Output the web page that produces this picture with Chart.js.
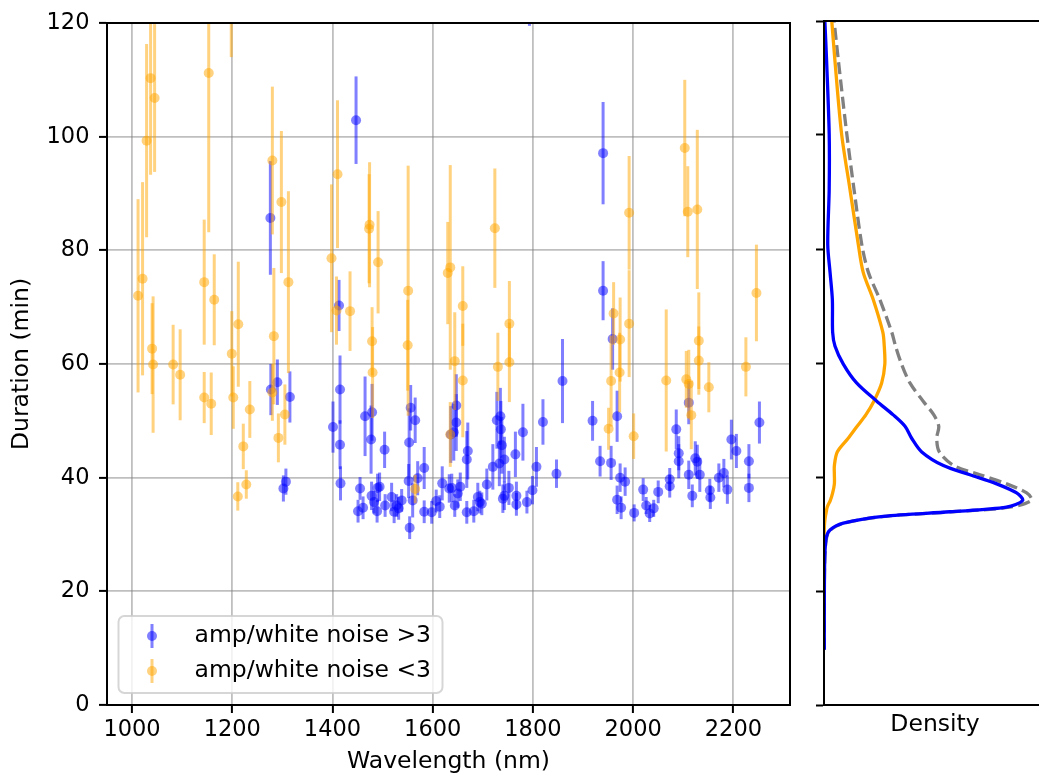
<!DOCTYPE html>
<html>
<head>
<meta charset="utf-8">
<title>Duration vs wavelength</title>
<script src="https://cdn.jsdelivr.net/npm/chart.js@4.4.0/dist/chart.umd.min.js"></script>
<style>
  body { margin: 0; background: #fff; overflow: hidden; }
  #main { position: absolute; left: 0; top: 0; }
  #side { position: absolute; left: 800px; top: 0; }
</style>
</head>
<body>
<canvas id="main" width="800" height="778"></canvas>
<canvas id="side" width="260" height="778"></canvas>
<script>
'use strict';

// amp/white noise > 3
var blueWave = [1276, 1277, 1290, 1315, 1302, 1307, 1413, 1415, 1401, 1415, 1416, 1447, 1793, 1465, 1479, 1477, 1504, 1455, 1478, 1483,
  1490, 1494, 1489, 1451, 1461, 1505, 1518, 1523, 1532, 1528, 1538, 1554, 1553, 1556, 1565, 1552, 1560, 1570, 1583, 1583,
  1598, 1607, 1614, 1619, 1633, 1636, 1647, 1647, 1642, 1638, 1650, 1655, 1644, 1670, 1668, 1668, 1682, 1690, 1698, 1694,
  1708, 1720, 1733, 1728, 1735, 1736, 1738, 1743, 1740, 1743, 1752, 1765, 1767, 1767, 1780, 1788, 1799, 1807, 1820, 1847,
  1859, 1940, 1940, 1919, 1968, 1934, 1956, 1974, 1984, 1968, 1976, 2002, 2020, 2026, 2033, 2041, 2050, 2073, 2073, 2086,
  2091, 2091, 2111, 2111, 2118, 2124, 2128, 2133, 2153, 2154, 2171, 2181, 2188, 2196, 2206, 2231, 2231, 2252, 1959];
var blueDur = [85.7, 55.5, 56.8, 54.2, 38.1, 39.3, 70.3, 55.5, 48.9, 45.8, 39, 102.9, 125, 50.8, 51.5, 46.7, 44.9, 38.1, 36.8, 35.7,
  38.2, 38.4, 34.1, 34.1, 34.7, 35.1, 36.6, 34, 34.6, 35.1, 36, 31.2, 46.2, 52.3, 50.1, 39.4, 36, 39.9, 41.7, 34,
  33.9, 35.9, 34.9, 39, 38.1, 47.6, 52.7, 49.7, 48, 38.2, 37.2, 38.4, 35.1, 44.7, 43.2, 33.9, 34.1, 36.6, 35.4, 35.7,
  38.8, 41.9, 42.5, 50.1, 50.8, 48.5, 45.7, 43.2, 36.3, 36.8, 38.2, 44.1, 36.8, 35.3, 48, 35.7, 37.8, 41.9, 49.8, 40.7,
  57, 97.1, 72.9, 50, 50.8, 42.9, 42.6, 40, 39.3, 36.1, 34.7, 33.8, 37.9, 35.1, 33.7, 34.6, 37.5, 39.7, 38.5, 48.5,
  44.3, 42.9, 40.5, 53.2, 36.8, 43.4, 42.8, 40.5, 37.8, 36.5, 40, 40.8, 37.9, 46.7, 44.7, 42.9, 38.2, 49.7, 64.4];
var blueErr = [10, 4.5, 4, 4.5, 2.3, 2.3, 4.5, 6, 4.5, 4.3, 3, 7.7, 5.5, 7, 5, 6, 3.2, 2, 2.5, 2,
  2.5, 2.5, 2, 2, 2, 2, 2.5, 2, 2, 2, 2, 2, 6, 4, 4, 3, 3, 3, 3.7, 2,
  2, 2, 2, 3, 2.5, 5, 5.5, 5, 5, 2.5, 2.5, 2.5, 2, 5, 5, 2, 2, 2.5, 2, 2,
  2.8, 4, 4, 5, 5, 5, 5, 4, 2.5, 2.5, 3, 4, 2.5, 2, 5, 2, 2.5, 3.5, 4, 2.5,
  7.4, 9, 5.2, 3.5, 4.5, 2.7, 3, 2.5, 2.5, 2.5, 2, 1.5, 2, 1.5, 1.5, 1.5, 2, 2, 2, 3.5,
  3, 3, 2.5, 3.8, 2, 3, 3, 3, 2, 2, 2.5, 2.5, 2.5, 3.5, 3, 3, 2.5, 3.7, 5.4];

// amp/white noise < 3
var orangeWave = [1012, 1021, 1029, 1037, 1045, 1040, 1042, 1082, 1096, 1144, 1144, 1153, 1158, 1164, 1198, 1199, 1202, 1212, 1222, 1211,
  1228, 1235, 1280, 1283, 1280, 1292, 1298, 1305, 1312, 1398, 1408, 1410, 1435, 1474, 1473, 1479, 1480, 1491, 1551, 1550,
  1565, 1630, 1635, 1635, 1644, 1660, 1660, 1724, 1730, 1753, 1753, 1992, 2103, 2109, 2128, 2246, 1961, 1956, 1951, 1974,
  1973, 1992, 2001, 2066, 2106, 2111, 2116, 2131, 2131, 2151, 2225];
var orangeDur = [72, 75, 99.3, 110.3, 106.8, 62.7, 59.9, 59.9, 58.1, 74.4, 54.1, 111.2, 53, 71.3, 128, 61.8, 54.1, 67, 45.5, 36.7,
  38.8, 52, 95.8, 64.9, 55, 47, 88.5, 51.1, 74.4, 78.6, 69.4, 93.4, 69.3, 84.5, 83.8, 64, 58.5, 77.9, 72.9, 63.3,
  38, 76, 77, 47.6, 60.5, 70.2, 57.1, 83.9, 59.5, 67.1, 60.3, 86.6, 98, 86.8, 87.2, 72.5, 68.9, 57, 48.6, 64.3,
  58.5, 67.1, 47.3, 57.1, 57.3, 56.5, 51, 64.1, 60.6, 55.9, 59.5];
var orangeErr = [17, 17, 17, 17, 13, 8, 12, 7, 8, 11, 4.5, 28, 5.5, 8, 14, 7.5, 5.5, 11, 4, 2.5,
  2.5, 5, 13, 12, 5, 4.3, 12.5, 5.3, 16, 13, 6, 13, 7, 11, 9.6, 6, 8, 9, 22, 8,
  2.5, 9, 18, 5.7, 8.6, 7, 10, 10.5, 6, 7.5, 7, 10, 12, 8, 14, 8.5, 5.5, 8, 3.7, 7.4,
  7, 9.4, 4, 12.5, 5, 6, 6, 8.5, 6, 4.4, 5.2];

var legendLabels = ['amp/white noise >3', 'amp/white noise <3'];
var xTicks = [1000, 1200, 1400, 1600, 1800, 2000, 2200];
var yTicks = [0, 20, 40, 60, 80, 100, 120];

// density curves, read at these durations (min)
var kdeDur = [9.7, 24.2, 29.1, 30.7, 31.9, 33.1, 33.9, 34.7, 35.9, 37.2, 38.8, 40.4, 42, 44.4, 46.8, 48.9, 50.9, 53.3, 56.5, 59.8,
  63, 65.4, 71.1, 75.9, 80.8, 90.5, 100.2, 113, 120];
var blueDensity = [0.0001, 0.0002, 0.0007, 0.0021, 0.0067, 0.0206, 0.0437, 0.0633, 0.0689, 0.0668, 0.0599, 0.0506, 0.0414, 0.0339, 0.0304, 0.0281, 0.0240, 0.0183, 0.0113, 0.0067,
  0.0038, 0.0030, 0.0029, 0.0021, 0.0013, 0.0018, 0.0018, 0.0009, 0.0003];
var orangeDensity = [null, null, 0, 0.0001, 0.0002, 0.0005, 0.0008, 0.0011, 0.0022, 0.0030, 0.0036, 0.0036, 0.0036, 0.0046, 0.0084, 0.0115, 0.0145, 0.0173, 0.0200, 0.0211,
  0.0209, 0.0204, 0.0171, 0.0136, 0.0119, 0.0090, 0.0061, 0.0038, 0.0027];
var totalDensity = [0.0001, 0.0002, 0.0008, 0.0022, 0.0069, 0.0211, 0.0445, 0.0644, 0.0720, 0.0703, 0.0633, 0.0541, 0.0450, 0.0400, 0.0391, 0.0398, 0.0381, 0.0344, 0.0298, 0.0269,
  0.0248, 0.0235, 0.0194, 0.0154, 0.0131, 0.0104, 0.0079, 0.0050, 0.0035];

Chart.defaults.font.family = 'DejaVu Sans';
Chart.defaults.font.size = 23.5;
Chart.defaults.color = '#000';

var tickFont = { size: 22.5 };

function toPoints(xs, ys) {
  return xs.map(function(x, i) { return { x: x, y: ys[i] }; });
}

function toCurve(dens) {
  var pts = [];
  kdeDur.forEach(function(d, i) {
    if (dens[i] !== null) pts.push({ x: dens[i], y: d });
  });
  return pts;
}

function setTicks(list) {
  return function(scale) {
    scale.ticks = list.map(function(v) { return { value: v }; });
  };
}

//plain numbers, no thousands separator
function plainLabel(value) {
  return String(value);
}

//vertical error bars, drawn right before each dataset's markers
var errorBars = {
  id: 'errorBars',
  beforeDatasetDraw: function(chart, args) {
    var ds = chart.data.datasets[args.index];
    if (!ds.errors) return;
    var ctx = chart.ctx;
    var area = chart.chartArea;
    var xs = chart.scales.x, ys = chart.scales.y;
    ctx.save();
    ctx.beginPath();
    ctx.rect(area.left, area.top, area.right - area.left, area.bottom - area.top);
    ctx.clip();
    ctx.strokeStyle = ds.backgroundColor;
    ctx.lineWidth = 3;
    ds.data.forEach(function(p, i) {
      var px = xs.getPixelForValue(p.x);
      ctx.beginPath();
      ctx.moveTo(px, ys.getPixelForValue(p.y - ds.errors[i]));
      ctx.lineTo(px, ys.getPixelForValue(p.y + ds.errors[i]));
      ctx.stroke();
    });
    ctx.restore();
  }
};

//box round the plot area
var frame = {
  id: 'frame',
  afterDraw: function(chart) {
    var a = chart.chartArea, ctx = chart.ctx;
    ctx.save();
    ctx.strokeStyle = '#000';
    ctx.lineWidth = 2;
    ctx.strokeRect(a.left, a.top, a.right - a.left, a.bottom - a.top);
    ctx.restore();
  }
};

//legend box in the lower left corner
var boxLegend = {
  id: 'boxLegend',
  afterDatasetsDraw: function(chart) {
    var ctx = chart.ctx, a = chart.chartArea;
    var left = a.left + 11.5, top = a.bottom - 89, w = 324, h = 77;
    ctx.save();
    ctx.beginPath();
    ctx.roundRect(left, top, w, h, 6);
    ctx.fillStyle = 'rgba(255,255,255,0.8)';
    ctx.fill();
    ctx.strokeStyle = 'rgba(204,204,204,0.8)';
    ctx.lineWidth = 2;
    ctx.stroke();
    chart.data.datasets.forEach(function(ds, i) {
      var cy = top + 20 + i * 35;
      var mx = left + 33.5;
      ctx.strokeStyle = ds.backgroundColor;
      ctx.lineWidth = 3;
      ctx.beginPath();
      ctx.moveTo(mx, cy - 12);
      ctx.lineTo(mx, cy + 12);
      ctx.stroke();
      ctx.fillStyle = ds.backgroundColor;
      ctx.beginPath();
      ctx.arc(mx, cy, 5, 0, Math.PI * 2);
      ctx.fill();
      ctx.fillStyle = '#000';
      ctx.font = '23.5px "DejaVu Sans"';
      ctx.textAlign = 'left';
      ctx.textBaseline = 'middle';
      ctx.fillText(legendLabels[i], left + 76, cy);
    });
    ctx.restore();
  }
};

var gridLines = { color: 'rgba(128,128,128,0.5)', lineWidth: 1.8, tickLength: 8, tickColor: '#000', tickWidth: 2 };
var axisBorder = { color: '#000', width: 2 };

var mainChart = new Chart(document.getElementById('main'), {
  type: 'scatter',
  data: {
    datasets: [{
      label: legendLabels[0],
      data: toPoints(blueWave, blueDur),
      errors: blueErr,
      backgroundColor: 'rgba(0,0,255,0.5)',
      order: 2
    }, {
      label: legendLabels[1],
      data: toPoints(orangeWave, orangeDur),
      errors: orangeErr,
      backgroundColor: 'rgba(255,165,0,0.5)',
      order: 1
    }]
  },
  options: {
    responsive: false,
    animation: false,
    layout: { padding: { left: 0, top: 21, right: 10, bottom: 0 } },
    elements: { point: { radius: 5, hoverRadius: 5, borderWidth: 0 } },
    plugins: { legend: { display: false }, tooltip: { enabled: false } },
    scales: {
      x: {
        type: 'linear',
        min: 950,
        max: 2313,
        afterBuildTicks: setTicks(xTicks),
        afterFit: function(s) { s.height = 73; },
        ticks: { padding: 4, maxRotation: 0, callback: plainLabel, font: tickFont },
        grid: gridLines,
        border: axisBorder,
        title: { display: true, text: 'Wavelength (nm)', padding: { top: 0, bottom: 2 } }
      },
      y: {
        min: 0,
        max: 120,
        afterBuildTicks: setTicks(yTicks),
        afterFit: function(s) { s.width = 107; },
        ticks: { padding: 9.5, callback: plainLabel, font: tickFont },
        grid: gridLines,
        border: axisBorder,
        title: { display: true, text: 'Duration (min)', padding: { top: 8, bottom: 0 } }
      }
    }
  },
  plugins: [errorBars, frame, boxLegend]
});

var sideChart = new Chart(document.getElementById('side'), {
  type: 'scatter',
  data: {
    datasets: [{
      data: toCurve(blueDensity),
      borderColor: '#0000ff',
      borderWidth: 3.3
    }, {
      data: toCurve(orangeDensity),
      borderColor: '#ffa500',
      borderWidth: 3.3
    }, {
      data: toCurve(totalDensity),
      borderColor: '#808080',
      borderWidth: 3.3,
      borderDash: [12, 5.3]
    }]
  },
  options: {
    responsive: false,
    animation: false,
    showLine: true,
    layout: { padding: { left: 0, top: 21, right: 14, bottom: 0 } },
    elements: { point: { radius: 0, hoverRadius: 0 }, line: { tension: 0.3 } },
    plugins: { legend: { display: false }, tooltip: { enabled: false } },
    scales: {
      x: {
        type: 'linear',
        min: 0,
        max: 0.077,
        afterFit: function(s) { s.height = 73; },
        ticks: { display: false },
        grid: { drawOnChartArea: false, drawTicks: false },
        border: axisBorder,
        title: { display: true, text: 'Density', padding: { top: 0, bottom: 39 } }
      },
      y: {
        min: 0,
        max: 120,
        afterBuildTicks: setTicks(yTicks),
        afterFit: function(s) { s.width = 24; },
        ticks: { display: false },
        grid: { drawOnChartArea: false, tickLength: 8, tickColor: '#000', tickWidth: 2 },
        border: axisBorder
      }
    }
  },
  plugins: [frame]
});
</script>
</body>
</html>
